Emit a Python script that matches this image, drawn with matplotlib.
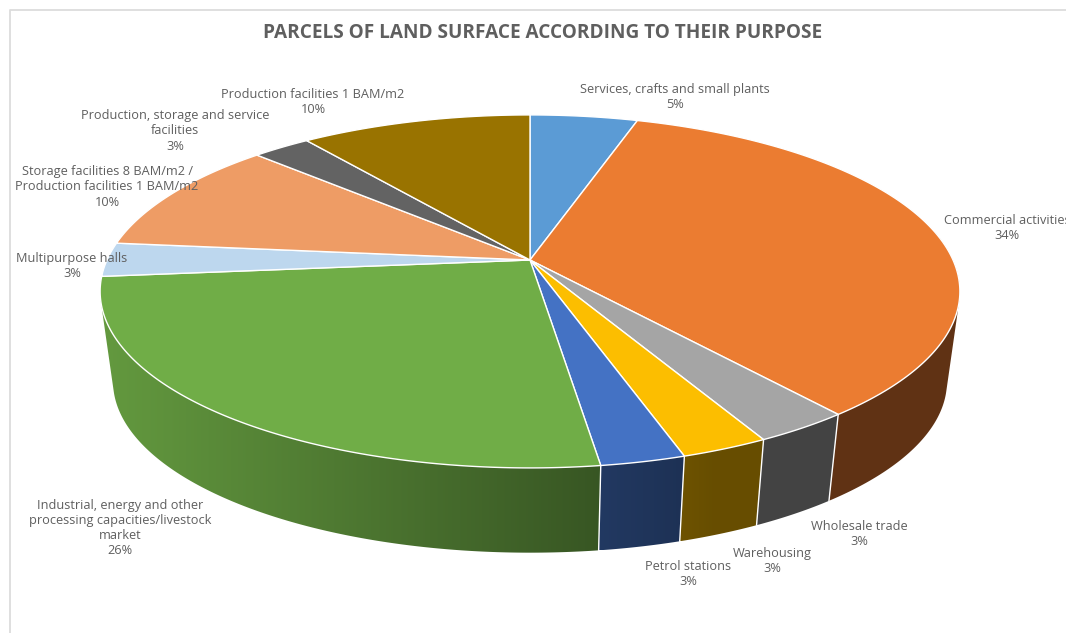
#!/usr/bin/env python3
"""Perspective 3D pie: parcels of land surface by purpose."""

import numpy as np
import matplotlib
matplotlib.use("Agg")
import matplotlib.pyplot as plt
from matplotlib.patches import Polygon

plt.rcParams["font.family"] = ["Open Sans", "DejaVu Sans"]

# ---------- data ----------
categories = [
    "Services, crafts and small plants",
    "Commercial activities",
    "Wholesale trade",
    "Warehousing",
    "Petrol stations",
    "Industrial, energy and other\nprocessing capacities/livestock\nmarket",
    "Multipurpose halls",
    "Storage facilities 8 BAM/m2 /\nProduction facilities 1 BAM/m2",
    "Production, storage and service\nfacilities",
    "Production facilities 1 BAM/m2",
]
values = [4.8, 34.4, 3.1, 2.8, 2.7, 25.7, 3.1, 10.5, 2.6, 10.3]
colors = ["#5b9bd5", "#eb7c31", "#a5a5a5", "#fcbe00", "#4472c4",
          "#70ad47", "#bdd7ee", "#ee9c65", "#636363", "#997300"]

# ---------- layout (pixels) ----------
label_pos = [(675, 97), (1007, 228), (859, 534), (772, 561), (688, 574),
             (120, 528), (72, 266), (107, 187), (175, 131), (313, 102)]
CX, CY = 530, 260      # pie centre on screen
K = 0.178              # perspective strength
A, B = 170.9, 423.0    # vertical / horizontal radius before perspective
DROP, SHRINK = 91, 0.97  # bottom face offset and scale
TEXT = "#5f5f5f"


def project(deg, drop=0.0, scale=1.0):
    """Clockwise angle from 12 o'clock -> screen x, y."""
    t = np.radians(deg)
    w = 1 + K * np.cos(t)
    return (CX + scale * B * np.sin(t) / w,
            CY + drop - scale * A * np.cos(t) / w)


def wall_shade(x):
    return np.clip(0.88 - (x - 110) * 0.00078, 0.41, 0.9)


def convex_hull(pts):
    """Monotone chain, enough for the wall outline."""
    pts = sorted(map(tuple, pts))

    def half(seq):
        out = []
        for p in seq:
            while len(out) > 1 and ((out[-1][0] - out[-2][0]) * (p[1] - out[-2][1])
                                    - (out[-1][1] - out[-2][1]) * (p[0] - out[-2][0])) <= 0:
                out.pop()
            out.append(p)
        return out[:-1]

    return np.array(half(pts) + half(pts[::-1]))


fig = plt.figure(figsize=(10.66, 6.33), dpi=100)
ax = fig.add_axes([0, 0, 1, 1])
ax.axis("off")

# frame of the original chart box
ax.plot([10, 10, 1066], [633, 9.5, 9.5], color="#dcdcdc", lw=1.3)

edges = np.cumsum([0] + values) / sum(values) * 360

# side wall first, top face covers whatever is hidden
for start, end, col in zip(edges[:-1], edges[1:], colors):
    if not 90 < end < 270:   # back slices show no wall
        continue
    ts = np.linspace(max(start, 80), end, 200)
    x0, y0 = project(ts)
    x1, y1 = project(ts, DROP, SHRINK)
    outline = convex_hull(np.column_stack([np.r_[x0, x1], np.r_[y0, y1]]))
    patch = Polygon(outline, closed=True, facecolor="none", edgecolor="none")
    ax.add_patch(patch)

    # horizontal gradient clipped to the wall shape
    left, right = outline[:, 0].min(), outline[:, 0].max()
    xs = np.linspace(left, right, 256)
    base = np.array(matplotlib.colors.to_rgb(col))
    grad = base[None, None, :] * wall_shade(xs)[None, :, None]
    im = ax.imshow(grad, extent=(left, right, outline[:, 1].max(), outline[:, 1].min()),
                   aspect="auto", interpolation="bilinear", zorder=2)
    im.set_clip_path(patch)

    if start > 90:
        sx0, sy0 = project(start)
        sx1, sy1 = project(start, DROP, SHRINK)
        ax.plot([sx0, sx1], [sy0, sy1], color="white", lw=1.0, zorder=3)

# top face
for start, end, col in zip(edges[:-1], edges[1:], colors):
    ts = np.linspace(start, end, max(int(end - start) * 3, 4))
    xs, ys = project(ts)
    pts = np.column_stack([np.r_[CX, xs], np.r_[CY, ys]])
    ax.add_patch(Polygon(pts, closed=True, facecolor=col, edgecolor="white",
                         lw=1.0, joinstyle="round", zorder=4))

# labels
for name, val, (lx, ly) in zip(categories, values, label_pos):
    ax.text(lx, ly, f"{name}\n{round(val)}%", ha="center", va="center",
            fontsize=9.15, color=TEXT, linespacing=1.2, zorder=5)

ax.text(542.5, 33, "PARCELS OF LAND SURFACE ACCORDING TO THEIR PURPOSE",
        ha="center", va="center", fontsize=13.65, fontweight="bold", color=TEXT)

ax.set_xlim(0, 1066)
ax.set_ylim(633, 0)

fig.savefig("out.png", dpi=100)
